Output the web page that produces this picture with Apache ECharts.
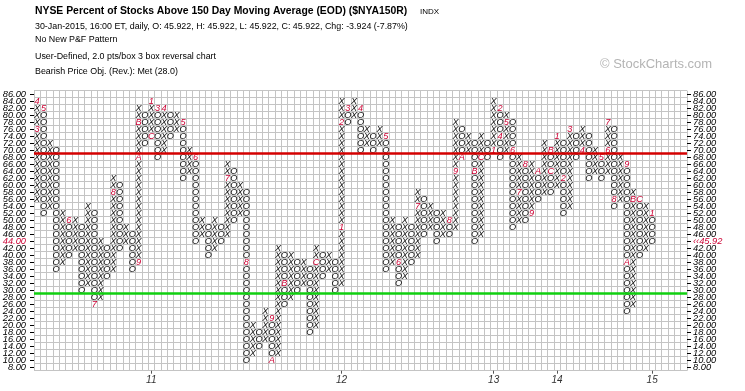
<!DOCTYPE html>
<html><head><meta charset="utf-8">
<script src="https://cdn.jsdelivr.net/npm/echarts@6/dist/echarts.min.js"></script>
<style>html,body{margin:0;padding:0;background:#fff}#c{width:745px;height:391px}</style>
</head><body><div id="c"></div>
<script>
// ---- P&F columns (price of lowest and highest box, 2 pts/box) ----
const colKind = 'XOXOXOXOXOXOXOXOXOXOXOXOXOXOXOXOXOXOXOXOXOXOXOXOXOXOXOXOXOXOXOXOXOXOXOXOXOXOXOXOXOXOXOXOXOXOXOXOXO';
const colLow = [56,52,54,36,38,40,42,30,32,26, 28,34,36,42,44,36,38,72,74,68,
                70,74,76,62,64,44,46,40,42,44, 46,50,52,10,12,14,16,10,12,26,
                28,30,32,18,20,34,36,30,32,78, 80,70,72,70,72,36,38,32,34,38,
                40,46,48,44,46,46,48,68,70,44, 46,68,70,68,70,48,50,50,52,56,
                58,58,60,52,54,68,70,62,64,62, 64,54,56,24,26,40,42,44,46,46];
const colHigh = [84,82,72,70,52,50,50,48,54,52, 44,42,62,60,48,46,82,80,84,82,
                 82,80,80,78,70,68,50,48,50,48, 66,64,60,58,20,18,24,22,42,40,
                 40,38,38,36,42,40,40,38,84,82, 84,82,76,74,76,74,50,48,50,48,
                 58,56,54,52,52,50,78,76,74,72, 74,72,84,82,80,78,68,66,66,64,
                 72,70,74,72,76,74,76,74,70,68, 78,76,68,66,58,56,54,52,52,50];
// month markers (column, box price, month code)
const markCol   = [0,0,1,5,9,12,16,16,16,18,18,19,20,23,25,30,33,37,37,39,44,48,48,49,51,55,57,60,65,66,67,69,70,72,73,73,74,75,76,77,78,79,81,81,82,83,84,86,89,90,90,91,93,93,94,95,97];
const markPrice = [76,84,82,50,26,58,38,68,78,74,84,82,82,78,68,62,38,22,10,32,38,48,78,82,82,74,38,54,50,64,68,64,68,70,82,74,78,70,58,66,52,64,70,64,74,62,76,70,68,70,78,56,66,38,56,56,52];
const markText  = ['3','4','5','6','7','8','9','A','B','C','1','3','4','5','6','7','8','9','A','B','C','1','2','3','4','5','6','7','8','9','A','B','C','1','2','4','5','6','7','8','9','A','B','C','1','2','3','4','5','6','7','8','9','A','B','C','1'];
const currentCol = 99;            // latest column (shown in red)
const lastClose = 45.92;
const lastBox = 44;
const resistanceLevel = 70;       // red line
const supportLevel = 30;          // green line
// axis labels
const priceLabels = ['8.00','10.00','12.00','14.00','16.00','18.00','20.00','22.00','24.00','26.00',
  '28.00','30.00','32.00','34.00','36.00','38.00','40.00','42.00','44.00','46.00',
  '48.00','50.00','52.00','54.00','56.00','58.00','60.00','62.00','64.00','66.00',
  '68.00','70.00','72.00','74.00','76.00','78.00','80.00','82.00','84.00','86.00'];
const yearLabels = ['11','12','13','14','15'];
const yearCols = [18,48,72,82,97];
const NCOL = 103;

// ---- build box table ----
const markMap = {};
markCol.forEach((c, i) => { markMap[c + '_' + markPrice[i]] = markText[i]; });
const boxes = [], boxText = [], boxKind = [];
for (let c = 0; c < colLow.length; c++) {
  for (let p = colLow[c]; p <= colHigh[c]; p += 2) {
    const key = c + '_' + p;
    boxes.push([c, priceLabels.indexOf(p.toFixed(2))]);
    if (markMap[key] !== undefined) { boxText.push(markMap[key]); boxKind.push(2); }
    else { boxText.push(colKind[c]); boxKind.push(c === currentCol ? 3 : (colKind[c] === 'X' ? 0 : 1)); }
  }
}
const xData = [];
for (let i = 0; i < NCOL; i++) xData.push('');
yearCols.forEach((c, i) => { xData[c] = yearLabels[i]; });

const FF = '"Liberation Sans", Arial, sans-serif';
const chart = echarts.init(document.getElementById('c'), null, {renderer: 'canvas'});
chart.setOption({
  animation: false,
  backgroundColor: '#fff',
  graphic: [
    {type: 'text', x: 35, y: 11, style: {text: 'NYSE Percent of Stocks Above 150 Day Moving Average (EOD) ($NYA150R)', font: 'bold 10.4px ' + FF, fill: '#000', verticalAlign: 'middle', textVerticalAlign: 'middle'}},
    {type: 'text', x: 420, y: 12, style: {text: 'INDX', font: '8px ' + FF, fill: '#000', verticalAlign: 'middle', textVerticalAlign: 'middle'}},
    {type: 'text', x: 35, y: 27, style: {text: '30-Jan-2015, 16:00 ET, daily, O: 45.922, H: 45.922, L: 45.922, C: 45.922, Chg: -3.924 (-7.87%)', font: '8.9px ' + FF, fill: '#000', verticalAlign: 'middle', textVerticalAlign: 'middle'}},
    {type: 'text', x: 35, y: 40, style: {text: 'No New P&F Pattern', font: '8.9px ' + FF, fill: '#000', verticalAlign: 'middle', textVerticalAlign: 'middle'}},
    {type: 'text', x: 35, y: 57, style: {text: 'User-Defined, 2.0 pts/box 3 box reversal chart', font: '8.9px ' + FF, fill: '#000', verticalAlign: 'middle', textVerticalAlign: 'middle'}},
    {type: 'text', x: 35, y: 72, style: {text: 'Bearish Price Obj. (Rev.): Met (28.0)', font: '8.9px ' + FF, fill: '#000', verticalAlign: 'middle', textVerticalAlign: 'middle'}},
    {type: 'text', x: 600, y: 64, style: {text: '\u00a9 StockCharts.com', font: '13px ' + FF, fill: '#b4b4b4', verticalAlign: 'middle', textVerticalAlign: 'middle'}}
  ],
  grid: {left: 34, top: 90.7, width: 653, height: 280, show: false, containLabel: false, outerBoundsMode: 'none'},
  xAxis: {
    type: 'category', data: xData, boundaryGap: true,
    axisLine: {show: false},
    axisTick: {show: true, alignWithLabel: true, length: 3, interval: (i, v) => v !== '', lineStyle: {color: '#555'}},
    axisLabel: {interval: 0, margin: 5, fontSize: 10, fontStyle: 'italic', fontFamily: FF, color: '#333'},
    splitLine: {show: true, interval: 0, lineStyle: {color: '#c4c4c4', width: 1}}
  },
  yAxis: [
    {type: 'category', data: priceLabels, boundaryGap: true, position: 'left',
     axisLine: {show: false},
     axisTick: {show: true, alignWithLabel: true, interval: 0, length: 4, lineStyle: {color: '#000'}},
     axisLabel: {interval: 0, margin: 8, fontSize: 9.3, fontStyle: 'italic', fontFamily: FF, color: '#000',
       formatter: v => v === lastBox.toFixed(2) ? '{r|' + v + '}' : v,
       rich: {r: {color: '#cc0033', fontSize: 9.3, fontStyle: 'italic', fontFamily: FF}}},
     splitLine: {show: true, interval: 0, lineStyle: {color: '#c4c4c4', width: 1}}},
    {type: 'category', data: priceLabels, boundaryGap: true, position: 'right',
     axisLine: {show: false},
     axisTick: {show: true, alignWithLabel: true, interval: 0, length: 4, lineStyle: {color: '#000'}},
     axisLabel: {interval: 0, margin: 6, fontSize: 9.3, fontStyle: 'italic', fontFamily: FF, color: '#000',
       formatter: v => v === lastBox.toFixed(2) ? '{r|\u2039\u2039' + lastClose.toFixed(2) + '}' : v,
       rich: {r: {color: '#cc0033', fontSize: 9.3, fontStyle: 'italic', fontFamily: FF}}},
     splitLine: {show: false}},
    {type: 'value', min: 8, max: 88, show: false}
  ],
  series: [
    {type: 'custom', xAxisIndex: 0, yAxisIndex: 0, data: boxes, silent: true,
     renderItem: function (params, api) {
       const i = params.dataIndex;
       const pt = api.coord([api.value(0), api.value(1)]);
       const k = boxKind[i];
       return {type: 'text', x: pt[0], y: pt[1],
         style: {text: boxText[i],
           fill: k === 2 ? '#cc0033' : (k === 3 ? '#ff1a1a' : '#111'),
           font: (k === 3 ? 'italic bold 9.6px ' : 'italic 9.2px ') + FF,
           align: 'center', verticalAlign: 'middle', textAlign: 'center', textVerticalAlign: 'middle'}};
     }},
    {type: 'line', xAxisIndex: 0, yAxisIndex: 2, data: [], silent: true,
     markLine: {symbol: ['none', 'none'], silent: true, label: {show: false}, animation: false,
       data: [
         {yAxis: resistanceLevel, lineStyle: {color: '#d40000', width: 2.5, type: 'solid'}},
         {yAxis: supportLevel, lineStyle: {color: '#10d010', width: 2.5, type: 'solid'}}
       ]}}
  ]
});
</script></body></html>
